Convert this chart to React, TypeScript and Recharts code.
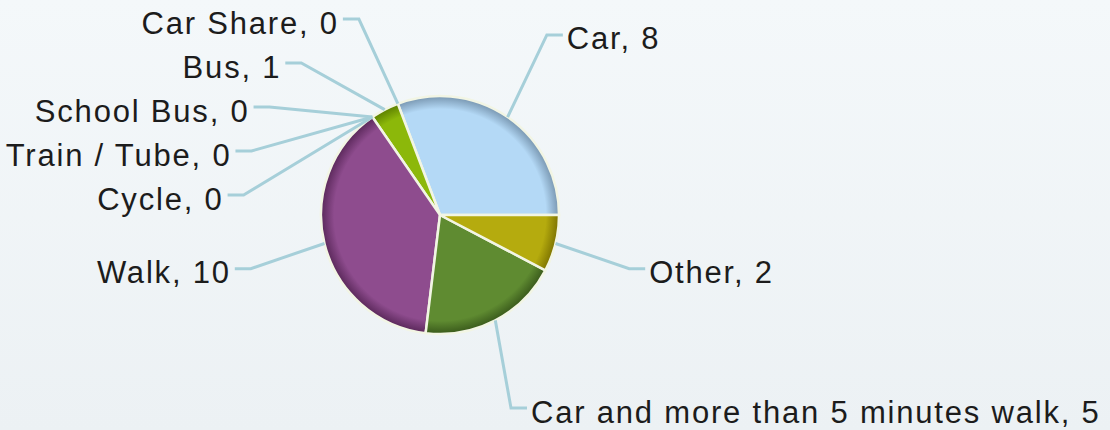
import { PieChart, Pie, Cell } from 'recharts';

const categories = [
  'Car',
  'Car Share',
  'Bus',
  'School Bus',
  'Train / Tube',
  'Cycle',
  'Walk',
  'Car and more than 5 minutes walk',
  'Other',
];
const values = [8, 0, 1, 0, 0, 0, 10, 5, 2];
const fills = ['#b4d9f6', '#7aa6c9', '#8cb80a', '#5a7fa0', '#6d9a3a', '#c9b020', '#8e4c8e', '#5f8b31', '#b5ab0e'];
const rims = ['#7896b0', '#4d7090', '#5c7f00', '#3b5a78', '#476a20', '#8a7a10', '#5a285a', '#39591b', '#7d7300'];

const W = 1110;
const H = 430;
const CX = 440;
const CY = 215;
const R = 119;

// label placement (highcharts-ish)
const LABEL_R = 220;
const TEXT_R = 217;
const Y_SHIFT = 5;
const SPACING = 44;
const TOP = 23;
const BOTTOM = 412;
const RAD = Math.PI / 180;

const data = categories.map((name, i) => ({ name, value: values[i] }));

function layoutLabels() {
  const total = values.reduce((a, b) => a + b, 0);
  let start = 0;
  const items = values.map((v, i) => {
    const ang = (v / total) * 360;
    const mid = start + ang / 2;
    start += ang;
    const left = Math.cos(mid * RAD) < 0;
    return { i, mid, left, y: CY - LABEL_R * Math.sin(mid * RAD) + Y_SHIFT };
  });
  [true, false].forEach((side) => {
    const group = items.filter((d) => d.left === side).sort((a, b) => a.y - b.y || a.i - b.i);
    let prev = -Infinity;
    group.forEach((d) => {
      d.y = Math.max(d.y, TOP, prev + SPACING);
      prev = d.y;
    });
    let next = Infinity;
    for (let k = group.length - 1; k >= 0; k--) {
      const d = group[k];
      d.y = Math.min(d.y, BOTTOM, next - SPACING);
      next = d.y;
    }
  });
  const out: Record<number, { mid: number; left: boolean; y: number }> = {};
  items.forEach((d) => (out[d.i] = d));
  return out;
}

const labelPos = layoutLabels();

function renderLabel(props: any) {
  const { index } = props;
  const pos = labelPos[index];
  const ex = CX + R * Math.cos(pos.mid * RAD);
  const ey = CY - R * Math.sin(pos.mid * RAD);
  const dy = pos.y - CY;
  const dir = pos.left ? -1 : 1;
  const tx = CX + dir * Math.sqrt(Math.max(0, TEXT_R * TEXT_R - dy * dy));
  const lx = tx - dir * 4;
  const bx = lx - dir * 16;
  const ly = pos.y - 4;
  return (
    <g key={`lbl-${index}`}>
      <path
        d={`M${ex},${ey} L${bx},${ly} L${lx},${ly}`}
        fill="none"
        stroke="#a6cfd9"
        strokeWidth={3}
      />
      <text
        x={tx}
        y={pos.y}
        textAnchor={pos.left ? 'end' : 'start'}
        dominantBaseline="central"
        fill="#1c1c1c"
        fontSize={31}
        letterSpacing={1.8}
        fontFamily="'Liberation Sans', Arial, sans-serif"
      >
        {`${categories[index]}, ${values[index]}`}
      </text>
    </g>
  );
}

export default function App() {
  return (
    <div
      style={{
        position: 'absolute',
        left: 0,
        top: 0,
        width: W,
        height: H,
        background: 'linear-gradient(180deg, #f4f8fa 0%, #ecf1f4 100%)',
      }}
    >
      <PieChart width={W} height={H} margin={{ top: 0, right: 0, bottom: 0, left: 0 }}>
        <defs>
          {fills.map((c, i) => (
            <radialGradient
              key={i}
              id={`slice-${i}`}
              gradientUnits="userSpaceOnUse"
              cx={CX}
              cy={CY}
              r={R}
            >
              <stop offset="0%" stopColor={c} />
              <stop offset="89%" stopColor={c} />
              <stop offset="100%" stopColor={rims[i]} />
            </radialGradient>
          ))}
        </defs>
        <Pie
          data={data}
          dataKey="value"
          nameKey="name"
          cx={CX}
          cy={CY}
          outerRadius={R}
          startAngle={0}
          endAngle={360}
          stroke="#f2f5e4"
          strokeWidth={2.5}
          label={renderLabel}
          labelLine={false}
          isAnimationActive={false}
        >
          {data.map((d, i) => (
            <Cell key={d.name} fill={`url(#slice-${i})`} />
          ))}
        </Pie>
      </PieChart>
    </div>
  );
}
